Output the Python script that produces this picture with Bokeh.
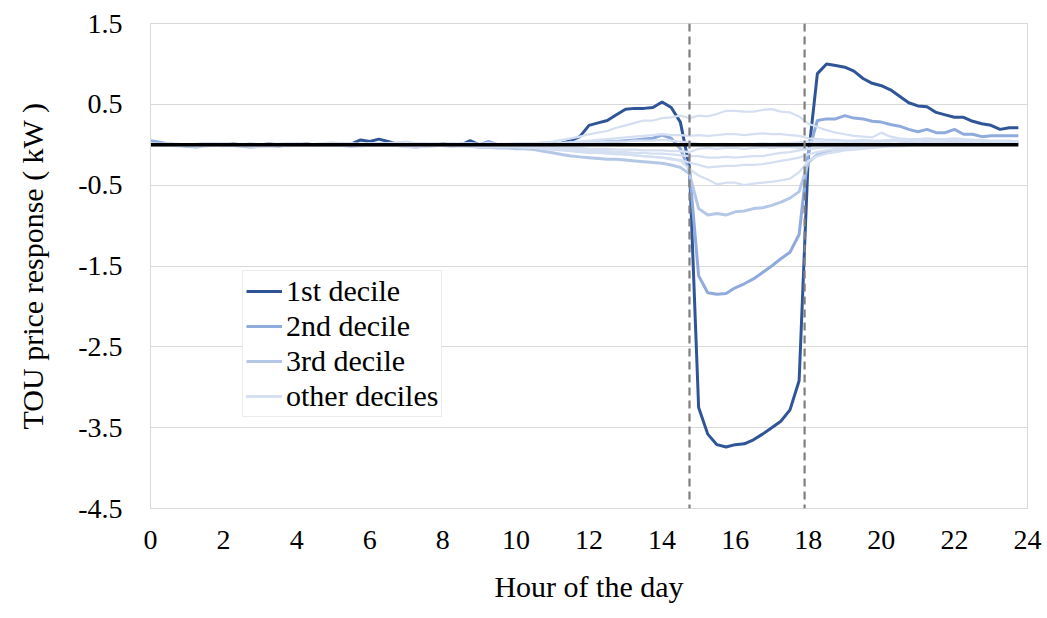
from bokeh.plotting import figure
from bokeh.models import Range1d, FixedTicker, Span, Legend, LegendItem
from bokeh.embed import file_html
from bokeh.resources import INLINE

# Quarter-hour time grid (hour of the day)
hours = [i * 0.25 for i in range(96)]

# TOU price response (kW) by consumption decile
decile_1 = [
    0.03, 0.02, 0.01, 0.00, -0.01, 0.00, 0.01, 0.00,
    0.00, 0.01, 0.00, -0.01, 0.00, 0.01, 0.00, -0.01,
    0.00, 0.01, 0.00, 0.00, 0.01, 0.00, 0.01, 0.06,
    0.04, 0.07, 0.04, 0.01, 0.00, 0.01, 0.00, 0.00,
    0.01, 0.00, 0.00, 0.05, 0.00, 0.01, -0.01, 0.00,
    0.00, 0.01, 0.00, 0.01, 0.01, 0.02, 0.05, 0.10,
    0.24, 0.27, 0.30, 0.37, 0.44, 0.45, 0.45, 0.46,
    0.53, 0.46, 0.28, -0.28, -3.25, -3.58, -3.71, -3.74,
    -3.71, -3.70, -3.65, -3.58, -3.50, -3.42, -3.28, -2.92,
    -0.15, 0.88, 1.00, 0.98, 0.96, 0.91, 0.82, 0.76,
    0.73, 0.68, 0.60, 0.52, 0.48, 0.47, 0.40, 0.37,
    0.34, 0.34, 0.29, 0.26, 0.24, 0.19, 0.21, 0.21,
]
decile_2 = [
    0.05, 0.03, 0.01, 0.00, -0.02, -0.01, 0.00, 0.01,
    0.00, -0.01, 0.00, 0.01, 0.00, -0.01, -0.02, 0.00,
    0.01, 0.00, 0.00, -0.01, 0.00, 0.01, 0.00, -0.01,
    0.00, 0.01, 0.00, 0.00, -0.01, 0.00, 0.01, 0.00,
    0.00, 0.01, 0.00, -0.01, 0.00, 0.04, 0.00, -0.01,
    0.00, 0.01, 0.01, 0.02, 0.02, 0.02, 0.03, 0.03,
    0.02, 0.03, 0.04, 0.04, 0.05, 0.06, 0.07, 0.08,
    0.12, 0.08, -0.05, -0.32, -1.62, -1.83, -1.85, -1.84,
    -1.77, -1.72, -1.66, -1.58, -1.50, -1.41, -1.33, -1.11,
    -0.10, 0.30, 0.32, 0.32, 0.36, 0.33, 0.32, 0.29,
    0.28, 0.25, 0.23, 0.19, 0.16, 0.19, 0.15, 0.15,
    0.19, 0.13, 0.13, 0.10, 0.11, 0.11, 0.11, 0.11,
]
decile_3 = [
    0.01, 0.00, -0.01, -0.01, -0.02, -0.03, -0.01, 0.00,
    0.00, -0.01, -0.02, -0.03, -0.02, -0.01, 0.00, -0.01,
    -0.01, 0.00, -0.01, -0.01, 0.00, -0.01, -0.02, -0.01,
    0.00, -0.01, 0.00, -0.01, -0.02, -0.03, -0.02, -0.01,
    -0.01, -0.02, -0.01, -0.02, -0.03, -0.03, -0.04, -0.04,
    -0.05, -0.05, -0.06, -0.08, -0.10, -0.12, -0.14, -0.15,
    -0.16, -0.17, -0.18, -0.18, -0.19, -0.20, -0.21, -0.22,
    -0.23, -0.25, -0.28, -0.36, -0.79, -0.87, -0.85, -0.87,
    -0.83, -0.82, -0.79, -0.78, -0.75, -0.71, -0.66, -0.58,
    -0.22, -0.12, -0.08, -0.06, -0.05, -0.04, -0.03, -0.02,
    -0.01, 0.00, 0.01, 0.02, 0.02, 0.03, 0.04, 0.04,
    0.05, 0.05, 0.04, 0.04, 0.04, 0.03, 0.03, 0.03,
]
decile_4 = [
    0.02, 0.01, 0.00, 0.01, 0.00, 0.01, 0.02, 0.01,
    0.02, 0.01, 0.00, 0.01, 0.00, 0.01, 0.01, 0.02,
    0.01, 0.00, 0.01, 0.02, 0.03, 0.01, 0.00, 0.01,
    0.02, 0.01, 0.02, 0.03, 0.04, 0.02, 0.01, 0.02,
    0.01, 0.00, 0.01, 0.02, 0.01, 0.02, 0.01, 0.01,
    0.02, 0.02, 0.02, 0.03, 0.04, 0.06, 0.08, 0.10,
    0.13, 0.15, 0.17, 0.21, 0.24, 0.27, 0.30, 0.30,
    0.33, 0.34, 0.36, 0.33, 0.36, 0.35, 0.38, 0.42,
    0.42, 0.41, 0.41, 0.43, 0.44, 0.41, 0.40, 0.35,
    0.26, 0.22, 0.18, 0.15, 0.13, 0.11, 0.10, 0.09,
    0.15, 0.10, 0.08, 0.07, 0.07, 0.06, 0.06, 0.05,
    0.07, 0.05, 0.04, 0.04, 0.04, 0.03, 0.03, 0.03,
]
decile_5 = [
    0.00, 0.01, 0.02, 0.01, 0.00, 0.00, 0.01, 0.02,
    0.01, 0.00, 0.01, 0.00, -0.01, 0.00, 0.01, 0.01,
    0.02, 0.01, 0.00, 0.01, 0.00, 0.01, 0.02, 0.01,
    0.00, 0.01, 0.00, 0.00, 0.01, 0.02, 0.01, 0.00,
    0.00, 0.01, 0.02, 0.01, 0.00, 0.01, 0.00, 0.01,
    0.00, 0.01, 0.01, 0.01, 0.01, 0.02, 0.03, 0.04,
    0.05, 0.06, 0.07, 0.08, 0.09, 0.10, 0.11, 0.12,
    0.13, 0.12, 0.12, 0.11, 0.12, 0.11, 0.12, 0.13,
    0.13, 0.12, 0.13, 0.14, 0.13, 0.13, 0.12, 0.11,
    0.08, 0.07, 0.06, 0.06, 0.05, 0.05, 0.06, 0.05,
    0.05, 0.06, 0.07, 0.06, 0.07, 0.08, 0.07, 0.07,
    0.08, 0.07, 0.06, 0.06, 0.05, 0.05, 0.05, 0.04,
]
decile_6 = [
    -0.01, 0.00, 0.01, 0.00, 0.01, 0.00, -0.01, 0.00,
    0.01, 0.00, 0.00, 0.01, 0.00, -0.01, 0.00, 0.00,
    0.00, 0.01, 0.00, 0.00, -0.01, 0.00, 0.01, 0.00,
    0.00, 0.00, 0.01, 0.00, 0.00, -0.01, 0.00, 0.01,
    0.00, 0.00, -0.01, 0.00, 0.01, 0.00, 0.00, 0.00,
    -0.01, 0.00, 0.00, 0.01, 0.01, 0.02, 0.02, 0.03,
    0.03, 0.03, 0.04, 0.04, 0.04, 0.05, 0.05, 0.05,
    0.06, 0.05, 0.04, 0.03, 0.01, 0.00, 0.01, 0.01,
    0.00, 0.01, 0.01, 0.02, 0.01, 0.02, 0.02, 0.03,
    0.04, 0.04, 0.03, 0.03, 0.03, 0.04, 0.03, 0.03,
    0.04, 0.04, 0.05, 0.04, 0.05, 0.05, 0.04, 0.05,
    0.06, 0.05, 0.05, 0.04, 0.04, 0.04, 0.03, 0.03,
]
decile_7 = [
    0.00, -0.01, -0.01, 0.00, 0.00, -0.01, -0.02, -0.01,
    0.00, 0.00, -0.01, 0.00, 0.01, 0.00, -0.01, 0.00,
    0.00, -0.01, 0.00, 0.01, 0.00, -0.01, 0.00, 0.00,
    -0.01, 0.00, 0.00, -0.01, -0.02, -0.01, 0.00, 0.00,
    0.00, -0.01, -0.02, -0.01, -0.02, -0.02, -0.01, -0.02,
    -0.02, -0.02, -0.03, -0.03, -0.03, -0.04, -0.04, -0.04,
    -0.05, -0.05, -0.05, -0.06, -0.06, -0.06, -0.07, -0.07,
    -0.07, -0.08, -0.08, -0.09, -0.05, -0.04, -0.05, -0.04,
    -0.04, -0.05, -0.04, -0.03, -0.04, -0.03, -0.03, -0.04,
    -0.05, -0.04, -0.03, -0.03, -0.02, -0.02, -0.01, -0.01,
    0.00, 0.00, 0.01, 0.01, 0.01, 0.02, 0.02, 0.02,
    0.03, 0.02, 0.02, 0.02, 0.02, 0.01, 0.01, 0.01,
]
decile_8 = [
    0.01, 0.00, -0.01, -0.02, -0.01, 0.00, 0.00, -0.01,
    -0.01, 0.00, -0.01, -0.02, -0.03, -0.02, -0.01, 0.00,
    0.00, -0.01, 0.00, 0.00, -0.01, -0.01, 0.00, 0.00,
    0.00, -0.01, -0.01, 0.00, -0.01, -0.02, -0.03, -0.02,
    -0.01, -0.01, 0.00, -0.01, -0.01, -0.02, -0.02, -0.03,
    -0.01, -0.02, -0.02, -0.03, -0.04, -0.05, -0.06, -0.06,
    -0.07, -0.08, -0.08, -0.09, -0.09, -0.10, -0.10, -0.11,
    -0.11, -0.12, -0.13, -0.14, -0.14, -0.16, -0.16, -0.15,
    -0.16, -0.15, -0.14, -0.14, -0.12, -0.10, -0.09, -0.07,
    -0.05, -0.04, -0.03, -0.03, -0.02, -0.02, -0.01, -0.01,
    0.00, 0.00, 0.01, 0.01, 0.02, 0.01, 0.02, 0.02,
    0.02, 0.03, 0.02, 0.02, 0.02, 0.02, 0.02, 0.01,
]
decile_9 = [
    0.00, -0.01, 0.00, 0.00, -0.01, -0.02, -0.01, 0.00,
    0.00, 0.00, -0.01, -0.01, 0.00, 0.00, -0.01, -0.02,
    -0.01, 0.00, 0.00, -0.01, 0.00, 0.00, -0.01, -0.02,
    -0.01, 0.00, 0.00, -0.01, -0.03, -0.02, -0.01, 0.00,
    -0.01, -0.01, -0.02, -0.02, -0.03, -0.02, -0.03, -0.03,
    -0.03, -0.04, -0.04, -0.05, -0.06, -0.07, -0.08, -0.09,
    -0.10, -0.10, -0.11, -0.12, -0.12, -0.13, -0.14, -0.15,
    -0.16, -0.17, -0.19, -0.22, -0.25, -0.28, -0.27, -0.26,
    -0.26, -0.25, -0.25, -0.24, -0.22, -0.20, -0.18, -0.16,
    -0.12, -0.09, -0.07, -0.06, -0.05, -0.04, -0.03, -0.02,
    -0.02, -0.01, 0.00, 0.00, 0.01, 0.01, 0.01, 0.02,
    0.02, 0.02, 0.02, 0.02, 0.01, 0.01, 0.01, 0.01,
]
decile_10 = [
    0.01, 0.00, 0.00, -0.01, 0.00, 0.00, -0.01, -0.01,
    -0.02, -0.01, 0.00, 0.00, -0.01, -0.02, -0.02, -0.01,
    0.00, 0.00, -0.01, -0.01, 0.00, 0.00, 0.01, 0.00,
    -0.01, -0.01, 0.00, 0.00, -0.01, -0.01, -0.02, -0.01,
    -0.01, 0.00, -0.01, -0.01, -0.02, -0.03, -0.03, -0.02,
    -0.02, -0.03, -0.03, -0.04, -0.05, -0.06, -0.07, -0.08,
    -0.08, -0.09, -0.10, -0.11, -0.12, -0.13, -0.14, -0.15,
    -0.16, -0.18, -0.20, -0.30, -0.38, -0.43, -0.49, -0.47,
    -0.47, -0.50, -0.48, -0.47, -0.46, -0.44, -0.42, -0.34,
    -0.20, -0.14, -0.11, -0.09, -0.07, -0.06, -0.05, -0.04,
    -0.03, -0.02, -0.02, -0.01, 0.00, 0.00, 0.01, 0.01,
    0.01, 0.02, 0.02, 0.02, 0.02, 0.01, 0.01, 0.01,
]
other_deciles = [decile_4, decile_5, decile_6, decile_7, decile_8, decile_9, decile_10]

# Peak-price window boundaries (hour of the day)
peak_start = 14.75
peak_end = 17.9

y_ticks = [-4.5, -3.5, -2.5, -1.5, -0.5, 0.5, 1.5]
y_tick_labels = ["-4.5", "-3.5", "-2.5", "-1.5", "-0.5", "0.5", "1.5"]
x_ticks = [0, 2, 4, 6, 8, 10, 12, 14, 16, 18, 20, 22, 24]

FONT = "Liberation Serif"
C1, C2, C3, C_OTHER = "#2F5597", "#8FAADC", "#B4C7E7", "#D5DFF2"

p = figure(
    width=1047, height=618,
    output_backend="svg", toolbar_location=None,
    x_range=Range1d(0, 24), y_range=Range1d(-4.5, 1.5),
    min_border_left=150, min_border_right=20,
    min_border_top=23, min_border_bottom=110,
    background_fill_color="white", border_fill_color="white",
)
p.outline_line_color = "#d9d9d9"
p.xgrid.visible = False
p.ygrid.grid_line_color = "#d9d9d9"
p.ygrid.grid_line_width = 1

p.xaxis.ticker = FixedTicker(ticks=x_ticks)
p.yaxis.ticker = FixedTicker(ticks=y_ticks)
# plain hyphen-minus on the value labels
p.yaxis.major_label_overrides = {t: s for t, s in zip(y_ticks, y_tick_labels)}
for ax in (p.xaxis[0], p.yaxis[0]):
    ax.major_tick_line_color = None
    ax.minor_tick_line_color = None
    ax.major_tick_out = 0
    ax.major_tick_in = 0
    ax.major_label_text_font = FONT
    ax.major_label_text_font_size = "28px"
    ax.major_label_text_color = "black"
    ax.axis_label_text_font = FONT
    ax.axis_label_text_font_size = "30px"
    ax.axis_label_text_font_style = "normal"
    ax.axis_label_text_color = "black"
p.xaxis.axis_line_color = None
p.yaxis.axis_line_color = "#d9d9d9"
p.xaxis.axis_label = "Hour of the day"
p.yaxis.axis_label = "TOU price response ( kW )"
p.xaxis.major_label_standoff = 22
p.xaxis.axis_label_standoff = 18
p.yaxis.major_label_standoff = 28
p.yaxis.axis_label_standoff = 26

r1 = p.line(hours, decile_1, line_color=C1, line_width=3)
r2 = p.line(hours, decile_2, line_color=C2, line_width=3)
r3 = p.line(hours, decile_3, line_color=C3, line_width=3)
others = [p.line(hours, d, line_color=C_OTHER, line_width=2.25) for d in other_deciles]

# zero reference across the data range
p.line([hours[0], hours[-1]], [0, 0], line_color="black", line_width=3.5)

for loc in (peak_start, peak_end):
    p.add_layout(Span(location=loc, dimension="height", line_color="#808080",
                      line_width=2.25, line_dash="8 5"))

legend = Legend(
    items=[
        LegendItem(label="1st decile", renderers=[r1]),
        LegendItem(label="2nd decile", renderers=[r2]),
        LegendItem(label="3rd decile", renderers=[r3]),
        LegendItem(label="other deciles", renderers=others),
    ],
    location=(92, 91),
    label_text_font=FONT, label_text_font_size="30px", label_text_color="black",
    glyph_width=36, glyph_height=34, label_height=34, label_standoff=4,
    padding=3, spacing=1, margin=0,
    border_line_color="#d9d9d9", background_fill_color="white", background_fill_alpha=1,
)
p.add_layout(legend)

open("out.html", "w").write(file_html(p, INLINE))
